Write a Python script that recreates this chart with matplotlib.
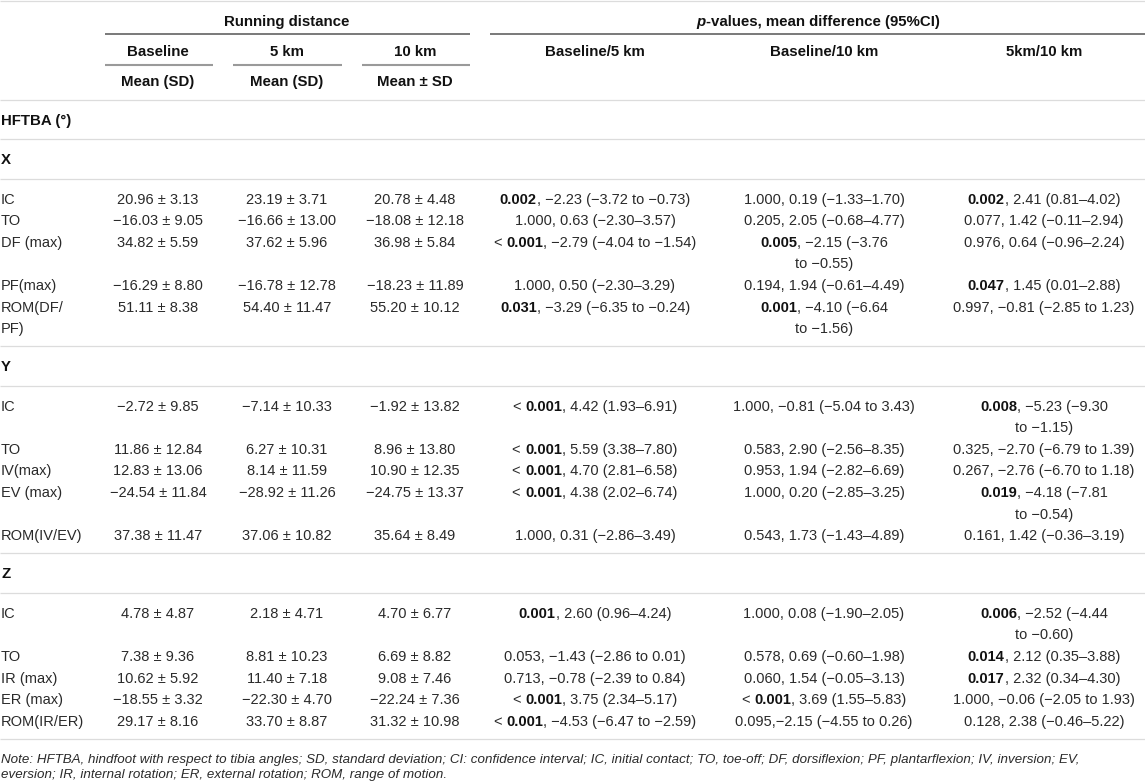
import matplotlib
matplotlib.use("Agg")
import matplotlib.pyplot as plt

plt.rcParams["font.family"] = ["Liberation Sans", "DejaVu Sans"]

# ---- table content ----
group_titles = ["Running distance", "p-values, mean difference (95%CI)"]
dist_cols = ["Baseline", "5 km", "10 km"]
dist_stats = ["Mean (SD)", "Mean (SD)", "Mean \u00b1 SD"]
pair_cols = ["Baseline/5 km", "Baseline/10 km", "5km/10 km"]
top_label = "HFTBA (\u00b0)"

labels_X = ["IC", "TO", "DF (max)", "PF(max)", "ROM(DF/\nPF)"]
base_X = [(20.96, 3.13), (-16.03, 9.05), (34.82, 5.59), (-16.29, 8.80), (51.11, 8.38)]
km5_X = [(23.19, 3.71), (-16.66, 13.00), (37.62, 5.96), (-16.78, 12.78), (54.40, 11.47)]
km10_X = [(20.78, 4.48), (-18.08, 12.18), (36.98, 5.84), (-18.23, 11.89), (55.20, 10.12)]
b5_X = ["**0.002**, \u22122.23 (\u22123.72 to \u22120.73)",
        "1.000, 0.63 (\u22122.30\u20133.57)",
        "< **0.001**, \u22122.79 (\u22124.04 to \u22121.54)",
        "1.000, 0.50 (\u22122.30\u20133.29)",
        "**0.031**, \u22123.29 (\u22126.35 to \u22120.24)"]
b10_X = ["1.000, 0.19 (\u22121.33\u20131.70)",
         "0.205, 2.05 (\u22120.68\u20134.77)",
         "**0.005**, \u22122.15 (\u22123.76\nto \u22120.55)",
         "0.194, 1.94 (\u22120.61\u20134.49)",
         "**0.001**, \u22124.10 (\u22126.64\nto \u22121.56)"]
k510_X = ["**0.002**, 2.41 (0.81\u20134.02)",
          "0.077, 1.42 (\u22120.11\u20132.94)",
          "0.976, 0.64 (\u22120.96\u20132.24)",
          "**0.047**, 1.45 (0.01\u20132.88)",
          "0.997, \u22120.81 (\u22122.85 to 1.23)"]

labels_Y = ["IC", "TO", "IV(max)", "EV (max)", "ROM(IV/EV)"]
base_Y = [(-2.72, 9.85), (11.86, 12.84), (12.83, 13.06), (-24.54, 11.84), (37.38, 11.47)]
km5_Y = [(-7.14, 10.33), (6.27, 10.31), (8.14, 11.59), (-28.92, 11.26), (37.06, 10.82)]
km10_Y = [(-1.92, 13.82), (8.96, 13.80), (10.90, 12.35), (-24.75, 13.37), (35.64, 8.49)]
b5_Y = ["< **0.001**, 4.42 (1.93\u20136.91)",
        "< **0.001**, 5.59 (3.38\u20137.80)",
        "< **0.001**, 4.70 (2.81\u20136.58)",
        "< **0.001**, 4.38 (2.02\u20136.74)",
        "1.000, 0.31 (\u22122.86\u20133.49)"]
b10_Y = ["1.000, \u22120.81 (\u22125.04 to 3.43)",
         "0.583, 2.90 (\u22122.56\u20138.35)",
         "0.953, 1.94 (\u22122.82\u20136.69)",
         "1.000, 0.20 (\u22122.85\u20133.25)",
         "0.543, 1.73 (\u22121.43\u20134.89)"]
k510_Y = ["**0.008**, \u22125.23 (\u22129.30\nto \u22121.15)",
          "0.325, \u22122.70 (\u22126.79 to 1.39)",
          "0.267, \u22122.76 (\u22126.70 to 1.18)",
          "**0.019**, \u22124.18 (\u22127.81\nto \u22120.54)",
          "0.161, 1.42 (\u22120.36\u20133.19)"]

labels_Z = ["IC", "TO", "IR (max)", "ER (max)", "ROM(IR/ER)"]
base_Z = [(4.78, 4.87), (7.38, 9.36), (10.62, 5.92), (-18.55, 3.32), (29.17, 8.16)]
km5_Z = [(2.18, 4.71), (8.81, 10.23), (11.40, 7.18), (-22.30, 4.70), (33.70, 8.87)]
km10_Z = [(4.70, 6.77), (6.69, 8.82), (9.08, 7.46), (-22.24, 7.36), (31.32, 10.98)]
b5_Z = ["**0.001**, 2.60 (0.96\u20134.24)",
        "0.053, \u22121.43 (\u22122.86 to 0.01)",
        "0.713, \u22120.78 (\u22122.39 to 0.84)",
        "< **0.001**, 3.75 (2.34\u20135.17)",
        "< **0.001**, \u22124.53 (\u22126.47 to \u22122.59)"]
b10_Z = ["1.000, 0.08 (\u22121.90\u20132.05)",
         "0.578, 0.69 (\u22120.60\u20131.98)",
         "0.060, 1.54 (\u22120.05\u20133.13)",
         "< **0.001**, 3.69 (1.55\u20135.83)",
         "0.095,\u22122.15 (\u22124.55 to 0.26)"]
k510_Z = ["**0.006**, \u22122.52 (\u22124.44\nto \u22120.60)",
          "**0.014**, 2.12 (0.35\u20133.88)",
          "**0.017**, 2.32 (0.34\u20134.30)",
          "1.000, \u22120.06 (\u22122.05 to 1.93)",
          "0.128, 2.38 (\u22120.46\u20135.22)"]

note_lines = [
    "Note: HFTBA, hindfoot with respect to tibia angles; SD, standard deviation; CI: confidence interval; "
    "IC, initial contact; TO, toe-off; DF, dorsiflexion; PF, plantarflexion; IV, inversion; EV,",
    "eversion; IR, internal rotation; ER, external rotation; ROM, range of motion.",
]

sections = [
    ("X", labels_X, [base_X, km5_X, km10_X], [b5_X, b10_X, k510_X]),
    ("Y", labels_Y, [base_Y, km5_Y, km10_Y], [b5_Y, b10_Y, k510_Y]),
    ("Z", labels_Z, [base_Z, km5_Z, km10_Z], [b5_Z, b10_Z, k510_Z]),
]

# ---- layout ----
W, H = 1145, 784
dist_x = [158, 287, 415]
pair_x = [595, 824, 1044]
label_x = 1
body_size = 10.5
head_size = 10.8
step = 21.6
text_c = "#2a2a2a"
head_c = "#111111"
rule_c = "#dcdcdc"

fig = plt.figure(figsize=(W / 100, H / 100), dpi=100)
ax = fig.add_axes([0, 0, 1, 1])
ax.set_xlim(0, W)
ax.set_ylim(H, 0)
ax.axis("off")
renderer = fig.canvas.get_renderer()


def run_width(s, **kw):
    t = ax.text(0, 0, s + "|", **kw)
    w1 = t.get_window_extent(renderer).width
    t.set_text("|")
    w2 = t.get_window_extent(renderer).width
    t.remove()
    return w1 - w2


def draw_runs(x, y, runs, size, ha="center", color=text_c):
    # runs: (text, weight, style); y is the visual centre of the line
    widths = [run_width(s, fontsize=size, fontweight=w, fontstyle=st) for s, w, st in runs]
    x0 = x - sum(widths) / 2 if ha == "center" else x
    base = y + size * 0.48
    for (s, w, st), wd in zip(runs, widths):
        ax.text(x0, base, s, fontsize=size, fontweight=w, fontstyle=st,
                ha="left", va="baseline", color=head_c if w == "bold" else color)
        x0 += wd


def draw_cell(x, y, cell, ha="center"):
    lines = cell.split("\n")
    for k, line in enumerate(lines):
        parts = line.split("**")
        runs = [(p, "bold" if i % 2 else "normal", "normal") for i, p in enumerate(parts) if p]
        draw_runs(x, y + k * step, runs, body_size, ha=ha)
    return len(lines)


def rule(y, x0=0, x1=W, color=rule_c, lw=0.9):
    ax.plot([x0, x1], [y, y], color=color, lw=lw, solid_capstyle="butt")


# ---- header ----
rule(1)
draw_runs(287, 21, [(group_titles[0], "bold", "normal")], head_size)
draw_runs(818, 21, [("p", "bold", "italic"), (group_titles[1][1:], "bold", "normal")], head_size)
rule(34, 105, 470, color="#555555", lw=1.1)
rule(34, 490, W, color="#555555", lw=1.1)
for x, name, stat in zip(dist_x, dist_cols, dist_stats):
    draw_runs(x, 51, [(name, "bold", "normal")], head_size)
    draw_runs(x, 81, [(stat, "bold", "normal")], head_size)
for x0, x1 in [(105, 213), (233, 342), (362, 470)]:
    rule(65, x0, x1, color="#9a9a9a", lw=1.5)
for x, name in zip(pair_x, pair_cols):
    draw_runs(x, 51, [(name, "bold", "normal")], head_size)
rule(100)

y = 100
draw_runs(label_x, y + 20, [(top_label, "bold", "normal")], head_size, ha="left")
y += 39
rule(y)

# ---- body ----
for name, labels, dist_vals, pair_vals in sections:
    draw_runs(label_x, y + 19.5, [(name, "bold", "normal")], head_size, ha="left")
    y += 39.5
    rule(y)
    yc = y + 20
    for i, lab in enumerate(labels):
        n = draw_cell(label_x, yc, lab, ha="left")
        for x, col in zip(dist_x, dist_vals):
            m, sd = col[i]
            txt = f"{m:.2f}".replace("-", "\u2212") + f" \u00b1 {sd:.2f}"
            n = max(n, draw_cell(x, yc, txt))
        for x, col in zip(pair_x, pair_vals):
            n = max(n, draw_cell(x, yc, col[i]))
        yc += n * step
    y = yc - step + 18
    rule(y)

# ---- note ----
for k, line in enumerate(note_lines):
    ax.text(label_x, y + 21 + k * 15.5, line, fontsize=9.6, fontstyle="italic",
            ha="left", va="center", color=text_c)

fig.savefig("out.png", dpi=100)
